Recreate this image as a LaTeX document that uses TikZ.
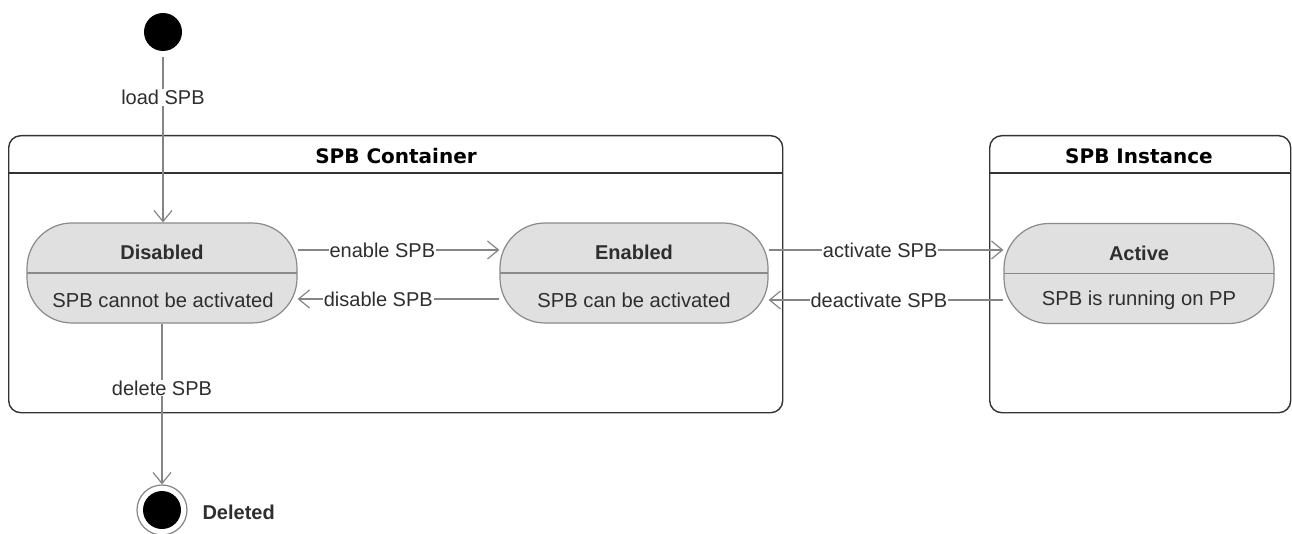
\documentclass[tikz,border=0pt]{standalone}
\usepackage{fontspec}
\setmainfont{Liberation Sans}
\newfontfamily\titlefont{DejaVu Sans}
\usetikzlibrary{arrows.meta}
\definecolor{statefill}{HTML}{E0E0E0}
\definecolor{stateline}{HTML}{8A8A8A}
\definecolor{edgecol}{HTML}{858585}
\definecolor{txt}{HTML}{2E2E2E}
\definecolor{contline}{HTML}{333333}
\begin{document}
\begin{tikzpicture}[x=1pt,y=-1pt,
  container/.style={draw=contline, line width=1.4pt, rounded corners=12pt, anchor=north west, inner sep=0pt},
  ctitle/.style={font=\titlefont\bfseries\fontsize{20}{22}\selectfont, text=black},
  statebox/.style={draw=stateline, fill=statefill, line width=1.2pt, rounded corners=45pt, minimum width=270pt, minimum height=100pt, inner sep=0pt},
  sname/.style={font=\bfseries\fontsize{20}{22}\selectfont, text=txt},
  sdesc/.style={font=\fontsize{20.2}{22}\selectfont, text=txt},
  divider/.style={draw=stateline, line width=1.2pt},
  edge/.style={draw=edgecol, line width=1.2pt, -{Straight Barb[length=11pt,width=18pt]}},
  elabel/.style={font=\fontsize{20}{22}\selectfont, text=txt, fill=white, inner sep=1pt}
]
\useasboundingbox (0,0) rectangle (1292,534);
\fill[white] (0,0) rectangle (1292,534);

% containers
\node[container, minimum width=774pt, minimum height=277pt] (cont) at (8,135) {};
\draw[contline, line width=1.4pt] (8,173) -- (782,173);
\node[ctitle] (conttitle) at (396,156) {SPB Container};

\node[container, minimum width=301pt, minimum height=277pt] (inst) at (989,135) {};
\draw[contline, line width=1.4pt] (989,173) -- (1290,173);
\node[ctitle] (insttitle) at (1139,156) {SPB Instance};

% states
\node[statebox] (dis) at (162,273) {};
\draw[divider] (27,273) -- (297,273);
\node[sname] (disname) at (162,252) {Disabled};
\node[sdesc] (disdesc) at (163,300) {SPB cannot be activated};

\node[statebox, minimum width=268pt] (en) at (634,273) {};
\draw[divider] (500,273) -- (768,273);
\node[sname] (enname) at (634,252) {Enabled};
\node[sdesc] (endesc) at (634,300) {SPB can be activated};

\node[statebox] (act) at (1139,273.5) {};
\draw[divider] (1004,273.5) -- (1274,273.5);
\node[sname] (actname) at (1139,253) {Active};
\node[sdesc] (actdesc) at (1139,300) {SPB is running on PP};

% initial and final
\node[circle, fill=black, minimum size=38pt, inner sep=0pt] (init) at (163,32) {};
\node[circle, draw=edgecol, line width=1.2pt, fill=white, minimum size=50pt, inner sep=0pt] (final) at (162,510) {};
\node[circle, fill=black, minimum size=38pt, inner sep=0pt] (finalin) at (162,510) {};
\node[font=\bfseries\fontsize{20}{22}\selectfont, text=txt, anchor=west] (deleted) at (199,512) {Deleted};

% edges
\draw[edge, shorten <=6pt] (init) -- node[elabel, pos=0.27] {load SPB} (dis.north -| init);
\draw[edge] (dis) -- node[elabel, pos=0.4] {delete SPB} (final);
\draw[edge] ([yshift=23pt]dis.east) -- node[elabel, pos=0.42] {enable SPB} ([yshift=23pt]en.west);
\draw[edge] ([yshift=-26pt]en.west) -- node[elabel, pos=0.6] {disable SPB} ([yshift=-26pt]dis.east);
\draw[edge] ([yshift=23pt]en.east) -- node[elabel, pos=0.475] {activate SPB} ([yshift=23.5pt]act.west);
\draw[edge] ([yshift=-26.5pt]act.west) -- node[elabel, pos=0.53] {deactivate SPB} ([yshift=-27pt]en.east);
\end{tikzpicture}
\end{document}
